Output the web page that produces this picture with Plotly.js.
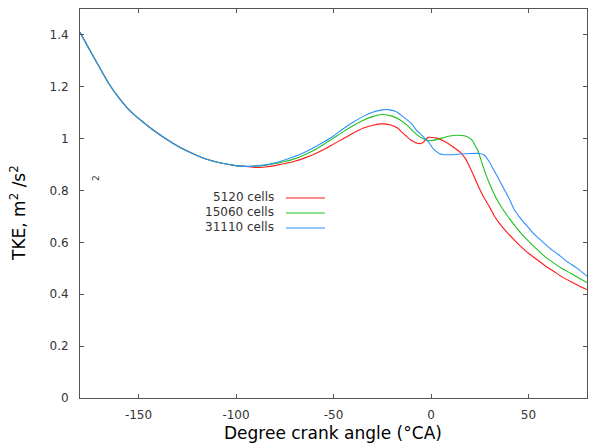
<!DOCTYPE html>
<html>
<head>
<meta charset="utf-8">
<script src="https://cdn.plot.ly/plotly-3.0.1.min.js"></script>
<style>html,body{margin:0;padding:0;background:#fff;}#chart{width:595px;height:444px;}</style>
</head>
<body>
<div id="chart"></div>
<script>
// Common initial part (all meshes coincide)
const commonX = [-180,-175,-170,-165,-160,-155,-150,-145,-140,-135,-130,-125,-120,-115,-110,-105,-100,-95];
const commonY = [1.41,1.342,1.275,1.21,1.157,1.112,1.078,1.048,1.02,0.995,0.972,0.952,0.935,0.921,0.91,0.902,0.896,0.893];

const redX = [-90,-85,-80,-75,-70,-65,-60,-55,-50,-45,-40,-35,-30,-26,-21,-17,-14.5,-12,-9.4,-6,-4,-2.5,-1.5,2.6,6.8,11,15.3,17.9,19.6,21.3,23,25,27.2,30,32.4,36,39.2,43,46,50,54.5,59,63,67,71.6,76,80];
const redY = [0.889,0.891,0.896,0.904,0.913,0.925,0.94,0.958,0.979,1.0,1.021,1.04,1.052,1.057,1.054,1.04,1.022,1.005,0.99,0.981,0.985,0.998,1.005,1.003,0.99,0.97,0.945,0.92,0.895,0.868,0.838,0.805,0.772,0.737,0.703,0.665,0.637,0.607,0.585,0.558,0.533,0.507,0.488,0.468,0.449,0.432,0.418];

const greenX = [-90,-85,-80,-75,-70,-65,-60,-55,-50,-45,-40,-35,-30,-25,-20,-16,-12,-9.4,-6,-3,0,3,6,9,13,17,19.6,21.5,22.5,24,25.6,27.5,29.8,32.4,35,39.2,43,46,50,54.5,58,63,67,71.6,76,80];
const greenY = [0.894,0.897,0.903,0.912,0.922,0.937,0.955,0.978,1.002,1.027,1.05,1.07,1.085,1.093,1.087,1.073,1.05,1.03,1.008,0.997,0.992,0.997,1.003,1.009,1.013,1.011,1.003,0.99,0.975,0.955,0.919,0.875,0.83,0.786,0.75,0.702,0.665,0.637,0.605,0.572,0.548,0.52,0.5,0.481,0.462,0.445];

const blueX = [-90,-85,-80,-75,-70,-65,-60,-55,-50,-45,-40,-35,-30,-25,-22,-18,-14.5,-10,-7.7,-5,-3.4,-1,0.8,2.6,4.2,6,10,15,20,25,27.2,29.8,32,34.5,37.5,40,42.6,46,49.4,53,57.9,62,66.5,70,75,80];
const blueY = [0.895,0.899,0.907,0.918,0.931,0.947,0.966,0.987,1.01,1.038,1.063,1.085,1.102,1.111,1.112,1.105,1.086,1.058,1.035,1.015,1.003,0.985,0.964,0.951,0.943,0.939,0.938,0.941,0.943,0.943,0.937,0.912,0.882,0.848,0.805,0.77,0.728,0.692,0.662,0.631,0.598,0.571,0.546,0.525,0.5,0.47];

const seriesNames = ['5120 cells','15060 cells','31110 cells'];
const seriesColors = ['#ff1a1a','#1fc01f','#2d8fff'];

const xTickVals = [-150,-100,-50,0,50];
const xTickText = ['-150','-100','-50','0','50'];
const yTickVals = [0,0.2,0.4,0.6,0.8,1,1.2,1.4];
const yTickText = ['0','0.2','0.4','0.6','0.8','1','1.2','1.4'];

const xs = [commonX.concat(redX), commonX.concat(greenX), commonX.concat(blueX)];
const ys = [commonY.concat(redY), commonY.concat(greenY), commonY.concat(blueY)];

const traces = xs.map((x,i)=>({
  x: x, y: ys[i], type:'scatter', mode:'lines', name: seriesNames[i],
  line:{color: seriesColors[i], width:1.1, shape:'spline', smoothing:0.45},
  showlegend:false
}));
const font = 'DejaVu Sans, Verdana, sans-serif';

// Legend drawn gnuplot-style: text right-aligned, sample line to the right
const legYpx = [197, 212, 227];
const annotations = [];
const shapes = [];
const L=80, T=9, W=507, H=389;
seriesNames.forEach((n,i)=>{
  annotations.push({xref:'paper', yref:'paper', x:(276-L)/W, y:(T+H-legYpx[i])/H,
    xanchor:'right', yanchor:'middle', text:n, showarrow:false,
    font:{family:font, size:12, color:'#333'}});
  shapes.push({type:'line', xref:'paper', yref:'paper', x0:(286-L)/W, x1:(325-L)/W,
    y0:(T+H-legYpx[i]-1)/H, y1:(T+H-legYpx[i]-1)/H, line:{color:seriesColors[i], width:1.2}});
});
// axis titles
annotations.push({xref:'paper', yref:'paper', x:(333-L)/W, y:(T+H-433)/H, xanchor:'center', yanchor:'middle',
  text:'Degree crank angle (°CA)', showarrow:false, font:{family:font, size:17, color:'#000'}});
annotations.push({xref:'paper', yref:'paper', x:(18-L)/W, y:(T+H-213)/H, xanchor:'center', yanchor:'middle',
  text:'TKE, m<sup>2</sup> /s<sup>2</sup>', textangle:-90, showarrow:false, font:{family:font, size:17, color:'#000'}});
// stray superscript artifact
annotations.push({xref:'paper', yref:'paper', x:(96-L)/W, y:(T+H-178)/H, xanchor:'center', yanchor:'middle',
  text:'2', textangle:-90, showarrow:false, font:{family:font, size:9, color:'#333'}});

const axisCommon = {showline:true, linecolor:'#555', linewidth:1, mirror:'ticks', ticks:'inside', ticklen:4,
  tickcolor:'#555', showgrid:false, zeroline:false, tickfont:{family:font, size:12, color:'#333'}};

const layout = {
  width:595, height:444,
  margin:{l:L, r:595-L-W, t:T, b:444-T-H},
  paper_bgcolor:'#fff', plot_bgcolor:'#fff',
  showlegend:false,
  xaxis: Object.assign({}, axisCommon, {range:[-180,80], tickmode:'array', tickvals:xTickVals, ticktext:xTickText, ticklabelstandoff:6}),
  yaxis: Object.assign({}, axisCommon, {range:[0,1.5], tickmode:'array', tickvals:yTickVals, ticktext:yTickText, ticklabelstandoff:8}),
  annotations: annotations,
  shapes: shapes
};
Plotly.newPlot('chart', traces, layout, {staticPlot:true, displayModeBar:false});
</script>
</body>
</html>
